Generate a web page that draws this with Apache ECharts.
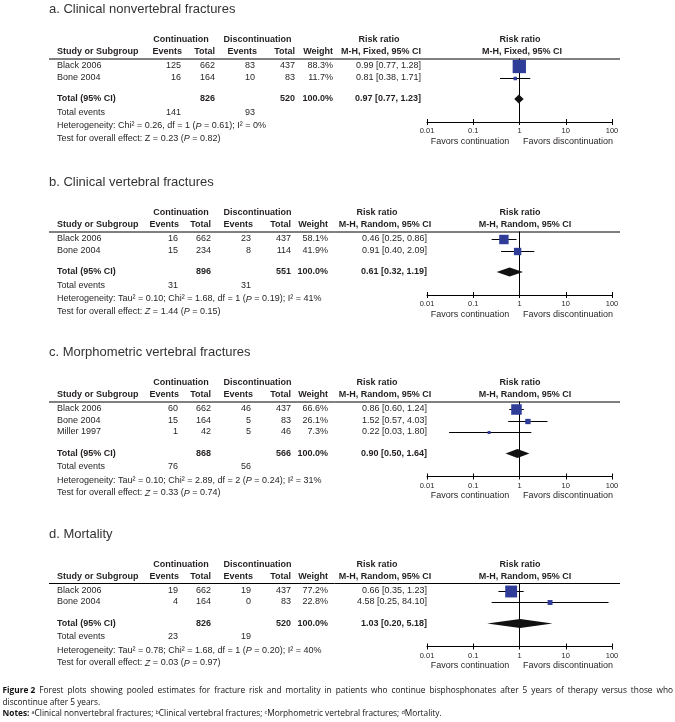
<!DOCTYPE html>
<html><head><meta charset="utf-8">
<script src="https://cdn.jsdelivr.net/npm/echarts@6/dist/echarts.min.js"></script>
<style>html,body{margin:0;padding:0;background:#fff}#c{width:675px;height:722px}</style>
</head><body><div id="c"></div>
<script>
// ---------------- DATA ----------------
const panelTitles = ['a. Clinical nonvertebral fractures', 'b. Clinical vertebral fractures', 'c. Morphometric vertebral fractures', 'd. Mortality'];
const methodLabels = ['M-H, Fixed, 95% CI', 'M-H, Random, 95% CI', 'M-H, Random, 95% CI', 'M-H, Random, 95% CI'];
const tickLabels = ['0.01', '0.1', '1', '10', '100'];
const favorLabels = ['Favors continuation', 'Favors discontinuation'];

// a. Clinical nonvertebral fractures
const studiesA = ['Black 2006', 'Bone 2004'];
const contEventsA = [125, 16];
const contTotalA = [662, 164];
const discEventsA = [83, 10];
const discTotalA = [437, 83];
const weightA = [88.3, 11.7];
const rrA = [0.99, 0.81];
const loA = [0.77, 0.38];
const hiA = [1.28, 1.71];
const totalsA = [826, 520];
const pooledA = [0.97, 0.77, 1.23];
const eventsA = [141, 93];
const hetA = 'Heterogeneity: Chi² = 0.26, df = 1 ({i|P} = 0.61); I² = 0%';
const testA = 'Test for overall effect: Z = 0.23 ({i|P} = 0.82)';

// b. Clinical vertebral fractures
const studiesB = ['Black 2006', 'Bone 2004'];
const contEventsB = [16, 15];
const contTotalB = [662, 234];
const discEventsB = [23, 8];
const discTotalB = [437, 114];
const weightB = [58.1, 41.9];
const rrB = [0.46, 0.91];
const loB = [0.25, 0.40];
const hiB = [0.86, 2.09];
const totalsB = [896, 551];
const pooledB = [0.61, 0.32, 1.19];
const eventsB = [31, 31];
const hetB = 'Heterogeneity: Tau² = 0.10; Chi² = 1.68, df = 1 ({i|P} = 0.19); I² = 41%';
const testB = 'Test for overall effect: {i|Z} = 1.44 ({i|P} = 0.15)';

// c. Morphometric vertebral fractures
const studiesC = ['Black 2006', 'Bone 2004', 'Miller 1997'];
const contEventsC = [60, 15, 1];
const contTotalC = [662, 164, 42];
const discEventsC = [46, 5, 5];
const discTotalC = [437, 83, 46];
const weightC = [66.6, 26.1, 7.3];
const rrC = [0.86, 1.52, 0.22];
const loC = [0.60, 0.57, 0.03];
const hiC = [1.24, 4.03, 1.80];
const totalsC = [868, 566];
const pooledC = [0.90, 0.50, 1.64];
const eventsC = [76, 56];
const hetC = 'Heterogeneity: Tau² = 0.10; Chi² = 2.89, df = 2 ({i|P} = 0.24); I² = 31%';
const testC = 'Test for overall effect: {i|Z} = 0.33 ({i|P} = 0.74)';

// d. Mortality
const studiesD = ['Black 2006', 'Bone 2004'];
const contEventsD = [19, 4];
const contTotalD = [662, 164];
const discEventsD = [19, 0];
const discTotalD = [437, 83];
const weightD = [77.2, 22.8];
const rrD = [0.66, 4.58];
const loD = [0.35, 0.25];
const hiD = [1.23, 84.10];
const totalsD = [826, 520];
const pooledD = [1.03, 0.20, 5.18];
const eventsD = [23, 19];
const hetD = 'Heterogeneity: Tau² = 0.78; Chi² = 1.68, df = 1 ({i|P} = 0.20); I² = 40%';
const testD = 'Test for overall effect: {i|Z} = 0.03 ({i|P} = 0.97)';

const captionLine1 = 'Forest plots showing pooled estimates for fracture risk and mortality in patients who continue bisphosphonates after 5 years of therapy versus those who';
const captionLine2 = 'discontinue after 5 years.';
const notesText = [['a', 'Clinical nonvertebral fractures; '], ['b', 'Clinical vertebral fractures; '], ['c', 'Morphometric vertebral fractures; '], ['d', 'Mortality.']];

const panels = [
  {studies: studiesA, ce: contEventsA, ct: contTotalA, de: discEventsA, dt: discTotalA, w: weightA, rr: rrA, lo: loA, hi: hiA, totals: totalsA, pooled: pooledA, events: eventsA, het: hetA, test: testA},
  {studies: studiesB, ce: contEventsB, ct: contTotalB, de: discEventsB, dt: discTotalB, w: weightB, rr: rrB, lo: loB, hi: hiB, totals: totalsB, pooled: pooledB, events: eventsB, het: hetB, test: testB},
  {studies: studiesC, ce: contEventsC, ct: contTotalC, de: discEventsC, dt: discTotalC, w: weightC, rr: rrC, lo: loC, hi: hiC, totals: totalsC, pooled: pooledC, events: eventsC, het: hetC, test: testC},
  {studies: studiesD, ce: contEventsD, ct: contTotalD, de: discEventsD, dt: discTotalD, w: weightD, rr: rrD, lo: loD, hi: hiD, totals: totalsD, pooled: pooledD, events: eventsD, het: hetD, test: testD}
];

// ---------------- LAYOUT ----------------
const FONT = '"Liberation Sans", Arial, sans-serif';
const CAPFONT = '"Open Sans", sans-serif';
const TXT = '#231f20';
const SQ = '#2f3c98';
const panelTop = [9.5, 182.5, 352.5, 534];
const UNIT = 11.5, ROW0 = 56.5, HDR = 49;
const YMIN = -(ROW0 - HDR) / UNIT;
const colsFixed = [181, 215, 255, 295, 333, 421];
const colsRand = [178, 211, 251, 291, 328, 427];
const AX_L = 427, AX_R = 612;

const graphics = [];
function txt(x, y, text, o) {
  o = o || {};
  const size = o.size || 9;
  graphics.push({
    type: 'text', x: x, y: y, silent: true,
    style: {
      text: text, fill: o.color || TXT, align: o.align || 'left', verticalAlign: 'middle',
      fontSize: size, fontFamily: o.family || FONT, fontWeight: o.bold ? 'bold' : 'normal',
      rich: o.rich || {
        i: {fontStyle: 'italic', fontSize: size, fontFamily: o.family || FONT, fill: o.color || TXT, fontWeight: o.bold ? 'bold' : 'normal'}
      }
    }
  });
}
const fmt2 = v => v.toFixed(2);
const rrText = (r, l, h) => fmt2(r) + ' [' + fmt2(l) + ', ' + fmt2(h) + ']';

const grids = [], xAxes = [], yAxes = [], series = [];

panels.forEach((p, k) => {
  const T = panelTop[k];
  const n = p.studies.length;
  const cols = k === 0 ? colsFixed : colsRand;
  const rowY = idx => T + ROW0 + idx * UNIT;
  const totIdx = n - 1 + 21.5 / UNIT;
  const axIdx = totIdx + 23 / UNIT;
  const axY = rowY(axIdx);

  // title
  txt(49, T, panelTitles[k], {size: 13, color: '#333'});
  // headers
  const h1 = T + 30.5, h2 = T + 42.5;
  txt(181, h1, 'Continuation', {bold: true, align: 'center'});
  txt(257.5, h1, 'Discontinuation', {bold: true, align: 'center'});
  txt(57, h2, 'Study or Subgroup', {bold: true});
  txt(cols[0] + 1, h2, 'Events', {bold: true, align: 'right'});
  txt(cols[1], h2, 'Total', {bold: true, align: 'right'});
  txt(cols[2] + 2, h2, 'Events', {bold: true, align: 'right'});
  txt(cols[3], h2, 'Total', {bold: true, align: 'right'});
  txt(cols[4], h2, 'Weight', {bold: true, align: 'right'});
  txt(k === 0 ? 379 : 377, h1, 'Risk ratio', {bold: true, align: 'center'});
  txt(k === 0 ? 381 : 385, h2, methodLabels[k], {bold: true, align: 'center'});
  txt(520, h1, 'Risk ratio', {bold: true, align: 'center'});
  txt(k === 0 ? 522 : 525, h2, methodLabels[k], {bold: true, align: 'center'});
  graphics.push({type: 'line', silent: true, shape: {x1: 49, y1: T + HDR + 0.5, x2: 620, y2: T + HDR + 0.5}, style: {stroke: '#000', lineWidth: 1}});

  // study rows
  p.studies.forEach((s, i) => {
    const y = rowY(i);
    txt(57, y, s);
    txt(cols[0], y, String(p.ce[i]), {align: 'right'});
    txt(cols[1], y, String(p.ct[i]), {align: 'right'});
    txt(cols[2], y, String(p.de[i]), {align: 'right'});
    txt(cols[3], y, String(p.dt[i]), {align: 'right'});
    txt(cols[4], y, p.w[i].toFixed(1) + '%', {align: 'right'});
    txt(cols[5], y, rrText(p.rr[i], p.lo[i], p.hi[i]), {align: 'right'});
  });
  // total row
  const ty = rowY(totIdx);
  txt(57, ty, 'Total (95% CI)', {bold: true});
  txt(cols[1], ty, String(p.totals[0]), {bold: true, align: 'right'});
  txt(cols[3], ty, String(p.totals[1]), {bold: true, align: 'right'});
  txt(cols[4], ty, '100.0%', {bold: true, align: 'right'});
  txt(cols[5], ty, rrText(p.pooled[0], p.pooled[1], p.pooled[2]), {bold: true, align: 'right'});
  txt(57, ty + 13.5, 'Total events');
  txt(cols[0], ty + 13.5, String(p.events[0]), {align: 'right'});
  txt(cols[2], ty + 13.5, String(p.events[1]), {align: 'right'});
  txt(57, ty + 27, p.het);
  txt(57, ty + 39.5, p.test);
  // favors
  txt(470, axY + 19.5, favorLabels[0], {align: 'center'});
  txt(568, axY + 19.5, favorLabels[1], {align: 'center'});

  // grid & axes
  grids.push({left: AX_L, width: AX_R - AX_L, top: T + HDR, height: (axIdx - YMIN) * UNIT, containLabel: false});
  const base = {
    type: 'log', logBase: 10, min: 0.01, max: 100, gridIndex: k, position: 'bottom',
    splitLine: {show: false}, splitArea: {show: false}
  };
  xAxes.push(Object.assign({}, base, {
    axisLine: {show: true, onZero: false, lineStyle: {color: '#000', width: 1}},
    axisTick: {show: true, inside: false, length: 3, lineStyle: {color: '#000'}},
    axisLabel: {show: true, margin: 5, fontSize: 7.5, fontFamily: FONT, color: TXT,
      formatter: (v, i) => tickLabels[i] !== undefined ? tickLabels[i] : ''}
  }));
  xAxes.push(Object.assign({}, base, {
    axisLine: {show: false, onZero: false},
    axisTick: {show: true, inside: true, length: 3, lineStyle: {color: '#000'}},
    axisLabel: {show: false}
  }));
  yAxes.push({type: 'value', gridIndex: k, inverse: true, min: YMIN, max: axIdx, show: false});

  const data = p.studies.map((s, i) => [i, p.rr[i], p.lo[i], p.hi[i], p.w[i]]);
  series.push({
    type: 'custom', xAxisIndex: 2 * k, yAxisIndex: k, encode: {x: [1, 2, 3], y: 0},
    silent: true, z: 3,
    data: data,
    renderItem: (params, api) => {
      const yv = api.value(0);
      const c = api.coord([api.value(1), yv]);
      const l = api.coord([api.value(2), yv]);
      const h = api.coord([api.value(3), yv]);
      const s = 2 + 0.128 * api.value(4);
      const yy = Math.round(c[1]) + 0.5;
      return {type: 'group', children: [
        {type: 'line', shape: {x1: l[0], y1: yy, x2: h[0], y2: yy}, style: {stroke: '#000', lineWidth: 1}},
        {type: 'rect', shape: {x: c[0] - s / 2, y: yy - s / 2, width: s, height: s}, style: {fill: SQ}}
      ]};
    },
    markLine: {
      silent: true, symbol: ['none', 'none'], label: {show: false},
      lineStyle: {color: '#000', width: 1, type: 'solid'},
      data: [{xAxis: 1}], z: 1
    }
  });
  series.push({
    type: 'custom', xAxisIndex: 2 * k, yAxisIndex: k, encode: {x: [1, 2, 3], y: 0},
    silent: true, z: 4,
    data: [[totIdx, p.pooled[0], p.pooled[1], p.pooled[2]]],
    renderItem: (params, api) => {
      const yv = api.value(0);
      const c = api.coord([api.value(1), yv]);
      const l = api.coord([api.value(2), yv]);
      const h = api.coord([api.value(3), yv]);
      const hh = 4.5;
      return {type: 'polygon', shape: {points: [[l[0], c[1]], [c[0], c[1] - hh], [h[0], c[1]], [c[0], c[1] + hh]]}, style: {fill: '#111'}};
    }
  });
});

// ---------------- CAPTION ----------------
const CAP = 8.3;
const mctx = document.createElement('canvas').getContext('2d');
function measure(t, bold) { mctx.font = (bold ? 'bold ' : '') + CAP + 'px ' + CAPFONT; return mctx.measureText(t).width; }
(function () {
  const words = [{t: 'Figure 2', b: true}].concat(captionLine1.split(' ').map(w => ({t: w, b: false})));
  const widths = words.map(w => measure(w.t, w.b));
  const sum = widths.reduce((a, b) => a + b, 0);
  const L = 2.5, R = 673;
  const gap = (R - L - sum) / (words.length - 1);
  let x = L;
  words.forEach((w, i) => {
    txt(x, 691, w.t, {size: CAP, family: CAPFONT, bold: w.b, color: '#111'});
    x += widths[i] + gap;
  });
  txt(L, 703, captionLine2, {size: CAP, family: CAPFONT, color: '#111'});
  let s = '{b|Notes:} ';
  notesText.forEach(nt => { s += '{s|' + nt[0] + '}' + nt[1]; });
  txt(L, 714, s, {size: CAP, family: CAPFONT, color: '#111', rich: {
    b: {fontWeight: 'bold', fontSize: CAP, fontFamily: CAPFONT, fill: '#111'},
    s: {fontSize: 5.5, fontFamily: CAPFONT, fill: '#111', verticalAlign: 'top', lineHeight: 10}
  }});
})();

const chart = echarts.init(document.getElementById('c'), null, {renderer: 'canvas'});
chart.setOption({
  animation: false,
  backgroundColor: '#fff',
  grid: grids, xAxis: xAxes, yAxis: yAxes, series: series, graphic: graphics
});
</script>
</body></html>
